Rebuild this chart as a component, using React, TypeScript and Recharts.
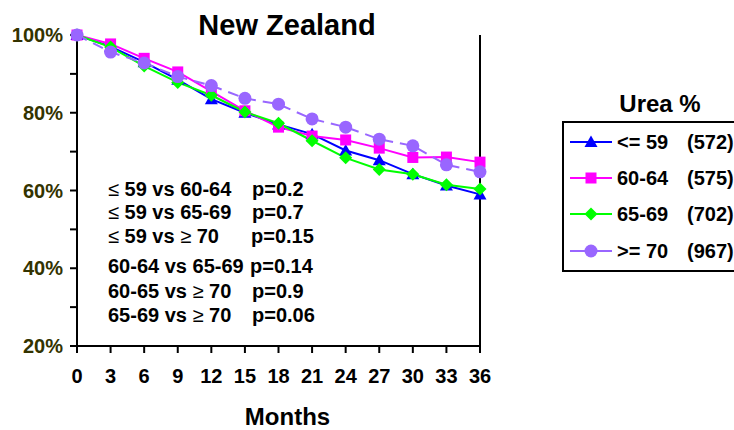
import { LineChart, Line, XAxis, YAxis } from "recharts";

// Survival by urea reduction group
const months = [0, 3, 6, 9, 12, 15, 18, 21, 24, 27, 30, 33, 36];
const upTo59 = [100, 97, 93, 88.5, 83.5, 80, 77, 74.5, 70.3, 67.8, 64.2, 61.3, 59];
const from60to64 = [100, 97.7, 94, 90.5, 85.5, 80.5, 76.3, 74, 73, 70.9, 68.5, 68.6, 67.3];
const from65to69 = [100, 96.9, 92, 87.8, 84.5, 80.2, 77.3, 72.8, 68.4, 65.4, 64.2, 61.5, 60.4];
const atLeast70 = [100, 95.6, 92.8, 89.3, 87, 83.7, 82.2, 78.4, 76.3, 73.2, 71.5, 66.6, 64.8];

const yTicks = [20, 30, 40, 50, 60, 70, 80, 90, 100];

const seriesNames = ["<= 59", "60-64", "65-69", ">= 70"];
const seriesCounts = ["(572)", "(575)", "(702)", "(967)"];

const comparisons = [
  "≤ 59 vs 60-64",
  "≤ 59 vs 65-69",
  "≤ 59 vs ≥ 70",
  "60-64 vs 65-69",
  "60-65 vs ≥ 70",
  "65-69 vs ≥ 70",
];
const pValues = ["p=0.2", "p=0.7", "p=0.15", "p=0.14", "p=0.9", "p=0.06"];

const data = months.map((m, i) => ({
  month: m,
  a: upTo59[i],
  b: from60to64[i],
  c: from65to69[i],
  d: atLeast70[i],
}));

const FONT = "'Liberation Sans', Arial, sans-serif";
const colors = ["#0000ff", "#ff00ff", "#00ff00", "#9966ff"];
const keys = ["a", "b", "c", "d"];

const Marker = ({ kind, cx, cy, fill }: { kind: number; cx: number; cy: number; fill: string }) => {
  if (kind === 0)
    return <polygon points={`${cx},${cy - 6.5} ${cx + 6.5},${cy + 5} ${cx - 6.5},${cy + 5}`} fill={fill} />;
  if (kind === 1) return <rect x={cx - 5.5} y={cy - 5.5} width={11} height={11} fill={fill} />;
  if (kind === 2)
    return <polygon points={`${cx},${cy - 6.5} ${cx + 6.5},${cy} ${cx},${cy + 6.5} ${cx - 6.5},${cy}`} fill={fill} />;
  return <circle cx={cx} cy={cy} r={6.5} fill={fill} />;
};

// thin symbol glyphs for the comparison notes
const withSymbols = (s: string) =>
  s.split(/([≤≥])/).map((part, i) =>
    part === "≤" || part === "≥" ? (
      <tspan key={i} fontWeight="normal">
        {part}
      </tspan>
    ) : (
      <tspan key={i}>{part}</tspan>
    ),
  );

const noteBaselines = [196, 219, 243, 273, 298, 322];
const pX = [252, 252, 251, 250, 252, 252];
const legendRows = [142, 178, 214, 251];

const axisStyle = { stroke: "#000", strokeWidth: 2 };

export default function App() {
  return (
    <div
      style={{
        position: "absolute",
        left: 0,
        top: 0,
        width: 734,
        height: 430,
        overflow: "hidden",
        background: "#fff",
        fontFamily: FONT,
      }}
    >
      <LineChart width={734} height={430} data={data} margin={{ top: 35, right: 0, bottom: 0, left: 0 }}>
        <XAxis
          dataKey="month"
          type="number"
          domain={[0, 36]}
          ticks={months}
          interval={0}
          height={84}
          axisLine={axisStyle}
          tickLine={axisStyle}
          tickSize={7}
          tickMargin={16}
          tick={{ fill: "#000", fontSize: 20, fontWeight: "bold", fontFamily: FONT }}
          label={{
            content: (props: any) => {
              const vb = props.viewBox;
              return (
                <text
                  x={vb.x + vb.width / 2 + 9}
                  y={425}
                  textAnchor="middle"
                  fontSize={24}
                  fontWeight="bold"
                  fontFamily={FONT}
                  fill="#000"
                >
                  Months
                </text>
              );
            },
          }}
        />
        <YAxis
          yAxisId="left"
          domain={[20, 100]}
          ticks={yTicks}
          interval={0}
          width={77}
          axisLine={axisStyle}
          tickLine={axisStyle}
          tickSize={7}
          tickMargin={7}
          tick={{ fill: "#333300", fontSize: 20, fontWeight: "bold", fontFamily: FONT }}
          tickFormatter={(v: number) => (v % 20 === 0 ? `${v}%` : "")}
        />
        <YAxis
          yAxisId="right"
          orientation="right"
          domain={[20, 100]}
          ticks={yTicks}
          interval={0}
          width={254}
          axisLine={axisStyle}
          tickLine={axisStyle}
          tickSize={7}
          tickMargin={5}
          tick={{ fill: "#000", fontSize: 20, fontWeight: "bold", fontFamily: FONT }}
          tickFormatter={(v: number) => (v % 20 === 0 ? `${v}%` : "")}
        />
        {keys.map((k, i) => (
          <Line
            key={k}
            yAxisId="left"
            dataKey={k}
            type="linear"
            stroke={colors[i]}
            strokeWidth={2}
            strokeDasharray={i === 3 ? "11 7" : undefined}
            isAnimationActive={false}
            dot={(p: any) => <Marker key={`${k}-${p.index}`} kind={i} cx={p.cx} cy={p.cy} fill={colors[i]} />}
            activeDot={false}
          />
        ))}
      </LineChart>

      <svg
        width={734}
        height={430}
        style={{ position: "absolute", left: 0, top: 0, pointerEvents: "none" }}
        fontFamily={FONT}
        fontWeight="bold"
      >
        <text x={287} y={35} textAnchor="middle" fontSize={29}>
          New Zealand
        </text>

        {comparisons.map((c, i) => (
          <g key={c} fontSize={20}>
            <text x={108} y={noteBaselines[i]}>
              {withSymbols(c)}
            </text>
            <text x={pX[i]} y={noteBaselines[i]}>
              {pValues[i]}
            </text>
          </g>
        ))}

        <text x={660} y={112} textAnchor="middle" fontSize={24}>
          Urea %
        </text>
        <rect x={563} y={122} width={200} height={149} fill="#fff" stroke="#000" strokeWidth={2} />
        {seriesNames.map((n, i) => (
          <g key={n}>
            <line
              x1={570}
              x2={612}
              y1={legendRows[i]}
              y2={legendRows[i]}
              stroke={colors[i]}
              strokeWidth={2}
            />
            <Marker kind={i} cx={591} cy={legendRows[i]} fill={colors[i]} />
            <text x={617} y={legendRows[i] + 7} fontSize={20}>
              {n}
            </text>
            <text x={687} y={legendRows[i] + 7} fontSize={20}>
              {seriesCounts[i]}
            </text>
          </g>
        ))}
      </svg>
    </div>
  );
}
